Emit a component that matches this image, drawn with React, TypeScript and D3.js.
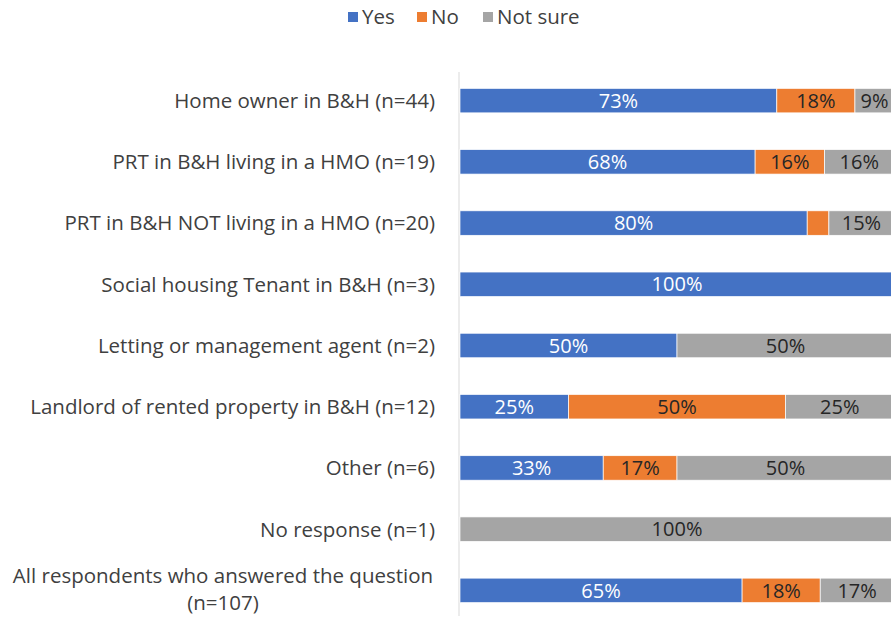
import { useEffect, useRef } from "react";
import * as d3 from "d3";

const categories = [
  "Home owner in B&H (n=44)",
  "PRT in B&H living in a HMO (n=19)",
  "PRT in B&H NOT living in a HMO (n=20)",
  "Social housing Tenant in B&H (n=3)",
  "Letting or management agent (n=2)",
  "Landlord of rented property in B&H (n=12)",
  "Other (n=6)",
  "No response (n=1)",
  "All respondents who answered the question (n=107)",
];
const yesValues = [73, 68, 80, 100, 50, 25, 33, 0, 65];
const noValues = [18, 16, 5, 0, 0, 50, 17, 0, 18];
const notSureValues = [9, 16, 15, 0, 50, 25, 50, 100, 17];
const seriesNames = ["Yes", "No", "Not sure"];
const colors = ["#4472C4", "#ED7D31", "#A5A5A5"];

const W = 891;
const H = 618;

const App = () => {
  const svgRef = useRef<SVGSVGElement>(null);

  useEffect(() => {
    const svg = d3.select(svgRef.current);
    svg.selectAll("*").remove();

    const left = 460;
    const right = 894;
    const top = 70;
    const bottom = 621;
    const font = "'Open Sans', sans-serif";
    const labelSize = 20.5;
    const barLabelSize = 20;

    const rows = categories.map((c, i) => ({
      cat: c,
      Yes: yesValues[i],
      No: noValues[i],
      "Not sure": notSureValues[i],
    }));

    const x = d3.scaleLinear().domain([0, 100]).range([left, right]);
    const y = d3
      .scaleBand()
      .domain(categories)
      .range([top, bottom])
      .paddingInner(0.6)
      .paddingOuter(0.3);

    const stack = d3.stack<any>().keys(seriesNames)(rows);

    // axis line
    svg
      .append("line")
      .attr("x1", left - 1)
      .attr("x2", left - 1)
      .attr("y1", 72)
      .attr("y2", 616)
      .attr("stroke", "#d9d9d9")
      .attr("stroke-width", 1);

    ////////////////////// bars //////////////////////
    stack.forEach((s, si) => {
      const g = svg.append("g");
      g.selectAll("rect")
        .data(s)
        .enter()
        .append("rect")
        .attr("x", (d) => x(d[0]))
        .attr("y", (d) => y(d.data.cat)!)
        .attr("width", (d) => x(d[1]) - x(d[0]))
        .attr("height", y.bandwidth())
        .attr("fill", colors[si])
        .attr("stroke", "#fff")
        .attr("stroke-width", 0.7);

      g.selectAll("text")
        .data(s.filter((d) => d[1] - d[0] >= 9))
        .enter()
        .append("text")
        .attr("x", (d) => (x(d[0]) + x(d[1])) / 2)
        .attr("y", (d) => y(d.data.cat)! + y.bandwidth() / 2)
        .attr("dy", "0.36em")
        .attr("text-anchor", "middle")
        .attr("font-family", font)
        .attr("font-size", barLabelSize)
        .attr("fill", si === 0 ? "#fff" : "#262626")
        .text((d) => `${d[1] - d[0]}%`);
    });

    ////////////////////// category labels //////////////////////
    categories.forEach((c) => {
      const cy = y(c)! + y.bandwidth() / 2;
      if (c.startsWith("All respondents")) {
        const t = svg
          .append("text")
          .attr("text-anchor", "middle")
          .attr("font-family", font)
          .attr("font-size", labelSize)
          .attr("fill", "#404040");
        t.append("tspan").attr("x", 223).attr("y", cy - 15).attr("dy", "0.36em").text("All respondents who answered the question");
        t.append("tspan").attr("x", 223).attr("y", cy + 12).attr("dy", "0.36em").text("(n=107)");
      } else {
        svg
          .append("text")
          .attr("x", 435)
          .attr("y", cy)
          .attr("dy", "0.36em")
          .attr("text-anchor", "end")
          .attr("font-family", font)
          .attr("font-size", labelSize)
          .attr("fill", "#404040")
          .text(c);
      }
    });

    ////////////////////// legend //////////////////////
    const legendX = [348, 417, 483];
    seriesNames.forEach((n, i) => {
      svg
        .append("rect")
        .attr("x", legendX[i])
        .attr("y", 12)
        .attr("width", 10)
        .attr("height", 10)
        .attr("fill", colors[i]);
      svg
        .append("text")
        .attr("x", legendX[i] + 14)
        .attr("y", 16.5)
        .attr("dy", "0.36em")
        .attr("font-family", font)
        .attr("font-size", labelSize)
        .attr("fill", "#404040")
        .text(n);
    });
  }, []);

  return (
    <div style={{ position: "absolute", left: 0, top: 0, width: W, height: H, background: "#fff" }}>
      <svg ref={svgRef} width={W} height={H} style={{ display: "block", overflow: "hidden" }}></svg>
    </div>
  );
};

export default App;
